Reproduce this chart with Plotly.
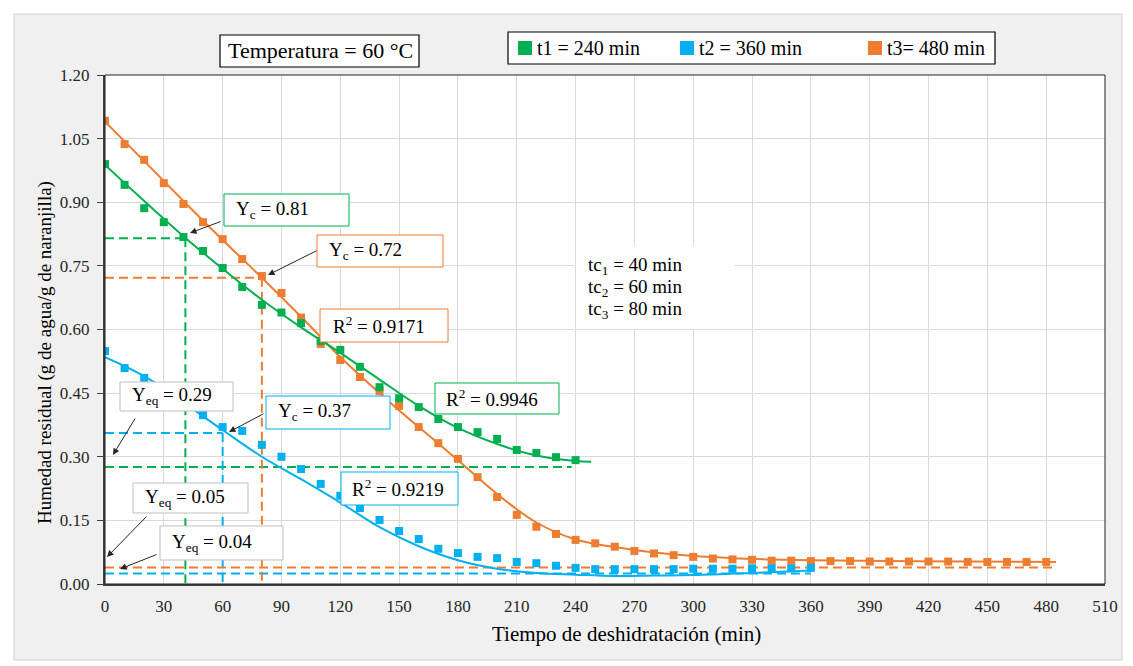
import plotly.graph_objects as go

# ---------------- data ----------------
t1 = list(range(0, 241, 10))
y_t1 = [0.990, 0.941, 0.886, 0.853, 0.818, 0.785, 0.745, 0.700, 0.658, 0.640,
        0.615, 0.573, 0.552, 0.512, 0.464, 0.438, 0.417, 0.389, 0.370, 0.358,
        0.342, 0.316, 0.309, 0.299, 0.292]

t2 = list(range(0, 361, 10))
y_t2 = [0.549, 0.509, 0.486, 0.455, 0.425, 0.398, 0.370, 0.361, 0.328, 0.300,
        0.271, 0.236, 0.208, 0.179, 0.151, 0.125, 0.106, 0.083, 0.073, 0.064,
        0.061, 0.052, 0.049, 0.043, 0.038, 0.035, 0.035, 0.035, 0.035, 0.035,
        0.036, 0.036, 0.036, 0.037, 0.037, 0.037, 0.038]

t3 = list(range(0, 481, 10))
y_t3 = [1.092, 1.037, 1.000, 0.945, 0.896, 0.853, 0.813, 0.766, 0.726, 0.686,
        0.628, 0.566, 0.528, 0.488, 0.455, 0.420, 0.370, 0.332, 0.295, 0.252,
        0.205, 0.163, 0.135, 0.118, 0.104, 0.096, 0.088, 0.078, 0.072, 0.068,
        0.064, 0.060, 0.058, 0.057, 0.055, 0.055, 0.054, 0.054, 0.054, 0.053,
        0.053, 0.053, 0.053, 0.053, 0.052, 0.052, 0.052, 0.052, 0.052]

# trend lines
fit1_x = [0, 20, 40, 60, 80, 100, 120, 140, 160, 180, 200, 220, 240, 248]
fit1_y = [0.988, 0.903, 0.820, 0.743, 0.670, 0.605, 0.545, 0.482, 0.420, 0.368,
          0.330, 0.303, 0.290, 0.288]
fit2_x = [0, 20, 40, 60, 80, 100, 120, 140, 160, 180, 200, 220, 240, 260, 280,
          300, 330, 360]
fit2_y = [0.535, 0.490, 0.428, 0.363, 0.300, 0.247, 0.192, 0.134, 0.089, 0.056,
          0.036, 0.026, 0.022, 0.019, 0.020, 0.021, 0.026, 0.032]
fit3_x = [0, 20, 40, 60, 80, 100, 120, 140, 160, 180, 200, 220, 240, 260, 280,
          300, 320, 340, 360, 400, 440, 485]
fit3_y = [1.090, 0.997, 0.903, 0.811, 0.722, 0.630, 0.535, 0.450, 0.370, 0.292,
          0.212, 0.145, 0.105, 0.087, 0.074, 0.066, 0.061, 0.058, 0.056, 0.054,
          0.053, 0.052]

# critical points (tc, Yc) and equilibrium lines
tc = [41, 60, 80]
yc = [0.815, 0.356, 0.722]
yeq = [0.276, 0.025, 0.039]
yeq_end = [238, 360, 485]

series_names = ["t1 = 240 min", "t2 = 360 min", "t3= 480 min"]
labels_r2 = ["R<sup>2</sup> = 0.9946", "R<sup>2</sup> = 0.9219", "R<sup>2</sup> = 0.9171"]
labels_yc = ["Y<sub>c</sub> = 0.81", "Y<sub>c</sub> = 0.37", "Y<sub>c</sub> = 0.72"]
labels_yeq = ["Y<sub>eq</sub> = 0.29", "Y<sub>eq</sub> = 0.05", "Y<sub>eq</sub> = 0.04"]
labels_tc = ["tc<sub>1</sub> = 40 min", "tc<sub>2</sub> = 60 min", "tc<sub>3</sub> = 80 min"]

GREEN, BLUE, ORANGE = "#00B050", "#00B0F0", "#ED7D31"
COLORS = [GREEN, BLUE, ORANGE]
GRAY = "#BFBFBF"
FONT = "Liberation Serif"

# ---------------- geometry helpers (page pixel coordinates) ----------------
OFF = 8                      # default body margin of the html page
PAGE_W, PAGE_H = 1133, 666
PL, PR, PT, PB = 105, 1105, 75, 584   # plot area on the page
W, H = PAGE_W - OFF, PAGE_H - OFF
L, T = PL - OFF, PT - OFF
R, B = PAGE_W - PR, PAGE_H - PB
PW, PH = PR - PL, PB - PT
XMAX, YMAX = 510, 1.2


def px(x):
    return (x - PL) / PW


def py(y):
    return (PB - y) / PH


def dx(x):
    return (x - PL) / PW * XMAX


def dy(y):
    return (PB - y) / PH * YMAX


fig = go.Figure()

# dashed reference lines
for i in range(3):
    c = COLORS[i]
    dash = "9px,5px"
    fig.add_trace(go.Scatter(x=[0, yeq_end[i]], y=[yeq[i], yeq[i]], mode="lines",
                             line=dict(color=c, width=2, dash=dash), showlegend=False,
                             hoverinfo="skip"))
    fig.add_trace(go.Scatter(x=[0, tc[i]], y=[yc[i], yc[i]], mode="lines",
                             line=dict(color=c, width=2, dash=dash), showlegend=False,
                             hoverinfo="skip"))
    fig.add_trace(go.Scatter(x=[tc[i], tc[i]], y=[yc[i], 0], mode="lines",
                             line=dict(color=c, width=2, dash=dash), showlegend=False,
                             hoverinfo="skip"))

# data series (orange first so green sits on top where they overlap)
data = [(t1, y_t1, fit1_x, fit1_y, GREEN, series_names[0]),
        (t2, y_t2, fit2_x, fit2_y, BLUE, series_names[1]),
        (t3, y_t3, fit3_x, fit3_y, ORANGE, series_names[2])]
for tx, ty, fx, fy, c, name in [data[2], data[1], data[0]]:
    fig.add_trace(go.Scatter(x=tx, y=ty, mode="markers", name=name,
                             marker=dict(symbol="square", size=8, color=c),
                             showlegend=False))
    fig.add_trace(go.Scatter(x=fx, y=fy, mode="lines", line=dict(color=c, width=2, shape="spline"),
                             showlegend=False, hoverinfo="skip"))

shapes = []
annotations = []

# chart area background
shapes.append(dict(type="rect", xref="paper", yref="paper", x0=px(14), x1=px(1122),
                   y0=py(660), y1=py(14), fillcolor="#F0F0F0",
                   line=dict(color="#D0D0D0", width=1), layer="below"))
shapes.append(dict(type="rect", xref="paper", yref="paper", x0=0, x1=1, y0=0, y1=1,
                   fillcolor="white", line=dict(width=0), layer="below"))
shapes.append(dict(type="rect", xref="paper", yref="paper", x0=0, x1=1, y0=0, y1=1,
                   fillcolor="rgba(0,0,0,0)", line=dict(color="#222222", width=1), layer="above"))


def box(x0, y0, x1, y1, color, width=1, fill="white"):
    shapes.append(dict(type="rect", xref="paper", yref="paper", x0=px(x0), x1=px(x1),
                       y0=py(y1), y1=py(y0), fillcolor=fill,
                       line=dict(color=color, width=width), layer="above"))


def text(xl, yc_, s, size=19):
    annotations.append(dict(xref="paper", yref="paper", x=px(xl), y=py(yc_), text=s,
                            showarrow=False, xanchor="left", yanchor="middle",
                            font=dict(family=FONT, size=size, color="black")))


def arrow(tx, ty, hx, hy):
    annotations.append(dict(x=dx(hx), y=dy(hy), xref="x", yref="y", text="",
                            showarrow=True, ax=tx - hx, ay=ty - hy, arrowhead=2,
                            arrowsize=1.3, arrowwidth=1, arrowcolor="#262626", standoff=0))


# title box
box(220, 35, 419, 67, "black", 1.2)
text(226, 51, "Temperatura = 60 °C", 22)

# legend box
box(508, 32, 995, 64, "black", 1.2)
leg_sq = [518, 680, 868]
for i in range(3):
    box(leg_sq[i], 41, leg_sq[i] + 14, 55, COLORS[i], 0, COLORS[i])
    text(leg_sq[i] + 17, 48, series_names[i], 20)

# tc text (white block without border)
box(576, 247, 735, 329, "white", 0)
for i, yy in enumerate([266, 288, 310]):
    text(586, yy, labels_tc[i])

# labelled boxes
box(224, 194, 349, 226, GREEN)
text(234, 210, labels_yc[0])
box(317, 235, 443, 267, ORANGE)
text(327, 251, labels_yc[2])
box(320, 309, 448, 342, ORANGE)
text(331, 325, labels_r2[2])
box(435, 383, 559, 414, GREEN)
text(444, 398, labels_r2[0])
box(266, 396, 390, 429, BLUE)
text(276, 412, labels_yc[1])
box(341, 472, 458, 505, BLUE)
text(350, 488, labels_r2[1])
box(120, 382, 233, 411, GRAY)
text(130, 396, labels_yeq[0])
box(133, 483, 248, 513, GRAY)
text(143, 498, labels_yeq[1])
box(160, 526, 283, 560, GRAY)
text(170, 543, labels_yeq[2])

# arrows
arrow(222, 221, 190, 233)
arrow(318, 250, 268, 275)
arrow(265, 413, 229, 432)
arrow(136, 417, 113, 455)
arrow(148, 515, 107, 557)
arrow(158, 554, 120, 569)

# axis titles
annotations.append(dict(xref="paper", yref="paper", x=px(626), y=py(634),
                        text="Tiempo de deshidratación (min)", showarrow=False,
                        xanchor="center", yanchor="middle",
                        font=dict(family=FONT, size=21, color="black")))
annotations.append(dict(xref="paper", yref="paper", x=px(45), y=py(353),
                        text="Humedad residual (g de agua/g de naranjilla)", showarrow=False,
                        textangle=-90, xanchor="center", yanchor="middle",
                        font=dict(family=FONT, size=19, color="black")))

fig.update_layout(
    width=W, height=H, autosize=False,
    margin=dict(l=L, r=R, t=T, b=B),
    paper_bgcolor="white", plot_bgcolor="rgba(0,0,0,0)",
    showlegend=False,
    shapes=shapes, annotations=annotations,
    font=dict(family=FONT, size=17, color="#262626"),
)
fig.update_xaxes(range=[0, XMAX], dtick=30, tick0=0, showgrid=True, gridcolor="#D9D9D9",
                 gridwidth=1, showline=True, linecolor="#404040", linewidth=2,
                 ticks="", zeroline=False, ticklabelstandoff=6,
                 tickfont=dict(family=FONT, size=17, color="#262626"))
fig.update_yaxes(range=[0, YMAX], dtick=0.15, tick0=0, tickformat=".2f", showgrid=True,
                 gridcolor="#D9D9D9", gridwidth=1, showline=True, linecolor="#404040",
                 linewidth=2, ticks="outside", ticklen=6, tickcolor="#404040",
                 zeroline=False, ticklabelstandoff=4,
                 tickfont=dict(family=FONT, size=17, color="#262626"))

fig.write_html("out.html")
